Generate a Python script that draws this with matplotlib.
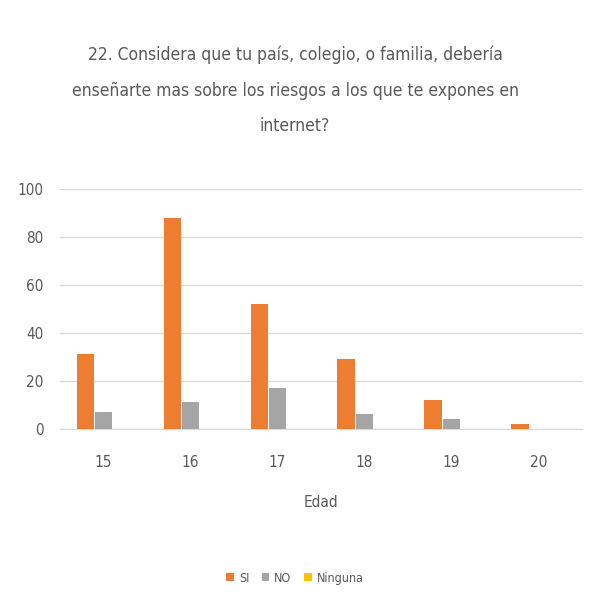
import matplotlib
matplotlib.use('Agg')
import matplotlib.pyplot as plt
import numpy as np

plt.rcParams['font.family'] = ['DejaVu Sans']
plt.rcParams['font.stretch'] = 'condensed'

# Data
edades = ['15', '16', '17', '18', '19', '20']
si = [31, 88, 52, 29, 12, 2]
no = [7, 11, 17, 6, 4, 0]
ninguna = [0, 0, 0, 0, 0, 0]
series = [('SI', si, '#ED7D31'), ('NO', no, '#A5A5A5'), ('Ninguna', ninguna, '#FFC000')]

titulo = ('22. Considera que tu país, colegio, o familia, debería\n'
          'enseñarte mas sobre los riesgos a los que te expones en\n'
          'internet?')

text_color = '#595959'
grid_color = '#D9D9D9'

fig = plt.figure(figsize=(5.9, 5.98), dpi=100)
ax = fig.add_axes([0.102, 0.283, 0.884, 0.401])

x = np.arange(len(edades))
width = 0.2
for i, (name, vals, color) in enumerate(series):
    ax.bar(x + (i - 1) * (width + 0.01), vals, width, color=color, label=name, zorder=3)

ax.set_ylim(0, 100)
ax.set_xlim(-0.5, len(edades) - 0.5)
ax.set_yticks(range(0, 101, 20))
ax.set_xticks(x)
ax.set_xticklabels(edades)
ax.tick_params(length=0, colors=text_color, labelsize=11)
ax.tick_params(axis='x', pad=19)
ax.tick_params(axis='y', pad=12)
ax.grid(axis='y', color=grid_color, linewidth=1, zorder=0)
for side in ['top', 'right', 'left']:
    ax.spines[side].set_visible(False)
ax.spines['bottom'].set_color(grid_color)

ax.set_xlabel('Edad', color=text_color, fontsize=11, labelpad=18)

fig.text(0.5, 0.849, titulo, ha='center', va='center', color=text_color,
         fontsize=12.5, linespacing=2.25)

fig.legend(loc='center', bbox_to_anchor=(0.5, 0.033), ncol=3, frameon=False,
           fontsize=9, labelcolor=text_color, handlelength=0.6, handleheight=0.6,
           columnspacing=1.0, handletextpad=0.4)

fig.savefig('out.png', dpi=100, facecolor='white')
